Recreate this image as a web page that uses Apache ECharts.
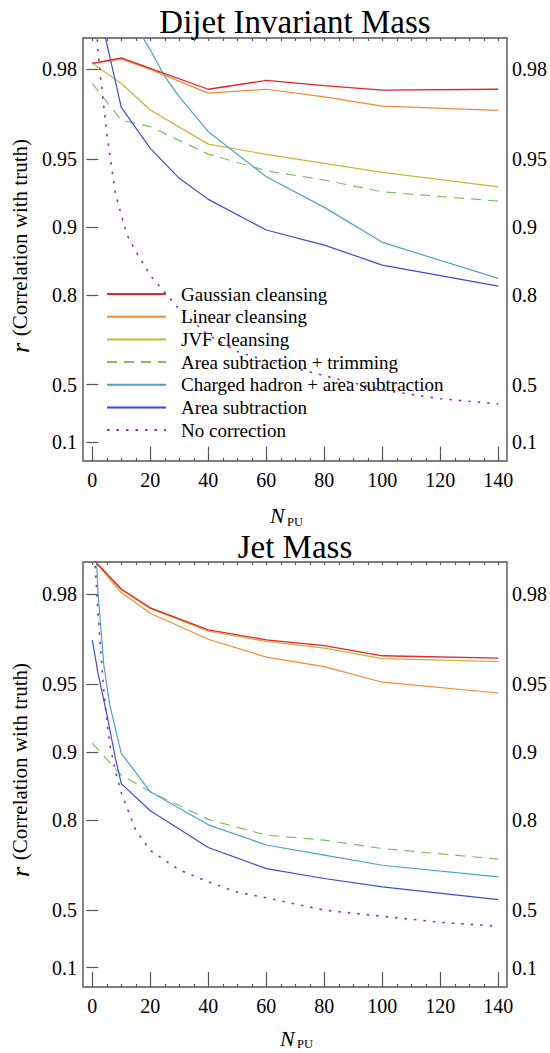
<!DOCTYPE html>
<html><head><meta charset="utf-8">
<script src="https://cdn.jsdelivr.net/npm/echarts@6/dist/echarts.min.js"></script>
<style>html,body{margin:0;padding:0;background:#fff}#c{width:550px;height:1053px}</style>
</head><body><div id="c"></div>
<script>
// ---------------- data ----------------
const seriesNames = ['Gaussian cleansing','Linear cleansing','JVF cleansing','Area subtraction + trimming','Charged hadron + area subtraction','Area subtraction','No correction'];
const chartTitles = ['Dijet Invariant Mass','Jet Mass'];
const rTicks = [0.1, 0.5, 0.8, 0.9, 0.95, 0.98];
const xMajor = [0, 20, 40, 60, 80, 100, 120, 140];
const xMinor = [0,5,10,15,20,25,30,35,40,45,50,55,60,65,70,75,80,85,90,95,100,105,110,115,120,125,130,135,140];

const npu = [0, 10, 20, 40, 60, 80, 100, 140];

// Dijet invariant mass (correlation r)
const dijetGaussian = [0.9812, 0.9822, 0.9802, 0.9755, 0.9776, 0.9764, 0.9753, 0.9755];
const dijetLinear   = [0.9812, 0.9820, 0.9800, 0.9745, 0.9755, 0.9735, 0.9709, 0.9696];
const dijetJVF      = [0.9812, 0.9769, 0.9697, 0.9571, 0.9524, 0.9478, 0.9428, 0.9337];
const dijetAreaTrim = [0.9769, 0.9664, 0.9641, 0.9525, 0.9437, 0.9381, 0.9302, 0.9233];
const npuDijetCharged = [0, 10, 20, 25, 30, 40, 60, 80, 100, 140];
const dijetCharged  = [0.997, 0.990, 0.9836, 0.9785, 0.9735, 0.9622, 0.9402, 0.9182, 0.8831, 0.8312];
const npuDijetArea = [0, 10, 20, 30, 40, 60, 80, 100, 140];
const dijetArea     = [0.992, 0.9705, 0.9552, 0.9392, 0.9246, 0.8969, 0.8798, 0.8526, 0.8174];
const npuDijetNoCorr = [1, 2, 3, 5, 8, 12, 15, 20, 30, 40, 50, 60, 70, 80, 100, 120, 140];
const dijetNoCorr   = [0.990, 0.9832, 0.9775, 0.9616, 0.9285, 0.8914, 0.872, 0.8363, 0.7683, 0.6987, 0.644, 0.6082, 0.5771, 0.5442, 0.4721, 0.4231, 0.3919];

// Jet mass (correlation r)
const jetGaussian = [0.9861, 0.9810, 0.9770, 0.9712, 0.9681, 0.9662, 0.9625, 0.9616];
const jetLinear   = [0.9861, 0.9803, 0.9757, 0.9683, 0.9620, 0.9581, 0.9509, 0.9452];
const jetJVF      = [0.9861, 0.9808, 0.9768, 0.9708, 0.9676, 0.9653, 0.9614, 0.9602];
const jetAreaTrim = [0.9085, 0.8735, 0.850, 0.8013, 0.7668, 0.7545, 0.7327, 0.702];
const npuJetCharged = [1, 2, 4, 6, 10, 20, 40, 60, 80, 100, 140];
const jetCharged  = [0.9895, 0.980, 0.9586, 0.9383, 0.8987, 0.850, 0.790, 0.742, 0.714, 0.683, 0.643];
const npuJetArea = [0, 2, 5, 8, 10, 20, 40, 60, 80, 100, 140];
const jetArea     = [0.968, 0.955, 0.932, 0.893, 0.862, 0.818, 0.7355, 0.672, 0.637, 0.6045, 0.550];
const npuJetNoCorr = [1, 2, 3, 4, 5, 6, 8, 10, 15, 20, 30, 40, 50, 60, 80, 100, 120, 140];
const jetNoCorr   = [0.985, 0.9756, 0.9631, 0.9457, 0.9284, 0.9077, 0.8777, 0.8486, 0.7779, 0.7271, 0.6676, 0.6244, 0.5831, 0.5583, 0.4990, 0.4667, 0.4328, 0.4095];

// ---------------- chart ----------------
const tf = r => -Math.log10(1 - r);   // axis scale: -log10(1 - r)
const FONT = '"Liberation Serif", "Times New Roman", serif';
const AX = '#555';
const yTickVals = rTicks.map(tf);
function yLabel(v) {
  let best = 0;
  for (let i = 1; i < yTickVals.length; i++) if (Math.abs(yTickVals[i] - v) < Math.abs(yTickVals[best] - v)) best = i;
  return String(rTicks[best]);
}
const colors = ['#e4232b', '#f08a38', '#c8b733', '#79c25c', '#4aa3c4', '#3a4cd6', '#9b2db5'];
const styles = [
  {width: 1.3}, {width: 1.2}, {width: 1.2},
  {width: 1.2, type: [10, 7]},
  {width: 1.2}, {width: 1.2},
  {width: 1.6, type: [2.5, 7]}
];

const grids = [
  {left: 83, right: 43, top: 38, height: 423},
  {left: 83, right: 43, top: 562, height: 425}
];
const yRanges = [[-0.037, 1.838], [-0.040, 1.841]];

const xAxes = [], yAxes = [];
grids.forEach((g, gi) => {
  const base = {gridIndex: gi, type: 'value', min: -3.2, max: 143, axisLine: {show: false}, splitLine: {show: false}};
  xAxes.push(Object.assign({}, base, {position: 'bottom',
    axisTick: {inside: true, length: 6, customValues: xMajor, lineStyle: {color: AX, width: 1.2}},
    axisLabel: {customValues: xMajor, fontSize: 20, fontFamily: FONT, color: '#000', margin: 9}}));
  xAxes.push(Object.assign({}, base, {position: 'top',
    axisTick: {inside: true, length: 6, customValues: xMajor, lineStyle: {color: AX, width: 1.2}},
    axisLabel: {show: false}}));
  xAxes.push(Object.assign({}, base, {position: 'bottom',
    axisTick: {inside: true, length: 3, customValues: xMinor, lineStyle: {color: AX, width: 1.2}},
    axisLabel: {show: false}}));
  xAxes.push(Object.assign({}, base, {position: 'top',
    axisTick: {inside: true, length: 3, customValues: xMinor, lineStyle: {color: AX, width: 1.2}},
    axisLabel: {show: false}}));
  ['left', 'right'].forEach(pos => {
    yAxes.push({gridIndex: gi, type: 'value', position: pos, min: yRanges[gi][0], max: yRanges[gi][1],
      axisLine: {show: false}, splitLine: {show: false},
      axisTick: {inside: true, length: 6, customValues: yTickVals, lineStyle: {color: AX, width: 1.2}},
      axisLabel: {customValues: yTickVals, formatter: yLabel, fontSize: 20, fontFamily: FONT, color: '#000', margin: pos === 'left' ? 6 : 5}});
  });
});

const chartData = [
  [[npu, dijetGaussian], [npu, dijetLinear], [npu, dijetJVF], [npu, dijetAreaTrim], [npuDijetCharged, dijetCharged], [npuDijetArea, dijetArea], [npuDijetNoCorr, dijetNoCorr]],
  [[npu, jetGaussian], [npu, jetLinear], [npu, jetJVF], [npu, jetAreaTrim], [npuJetCharged, jetCharged], [npuJetArea, jetArea], [npuJetNoCorr, jetNoCorr]]
];
const series = [];
chartData.forEach((list, gi) => {
  list.forEach((pair, si) => {
    const xs = pair[0], rs = pair[1];
    series.push({
      type: 'line', name: seriesNames[si], xAxisIndex: gi * 4, yAxisIndex: gi * 2,
      data: xs.map((x, i) => [x, tf(rs[i])]),
      symbol: 'none', clip: true, silent: true,
      z: si === 0 ? 4 : 2,
      lineStyle: Object.assign({color: colors[si]}, styles[si]),
      itemStyle: {color: colors[si]}
    });
  });
});

const graphics = [];
const titleMid = [21.5, 547];
chartTitles.forEach((t, i) => {
  graphics.push({type: 'text', x: 295, y: titleMid[i], style: {text: t, font: '33px ' + FONT, lineHeight: 25, fill: '#000', align: 'center', verticalAlign: 'middle'}});
});
const yNameMid = [246, 770];
yNameMid.forEach(y => {
  graphics.push({type: 'text', x: 20, y: y, rotation: Math.PI / 2, style: {
    text: '{r|r}  {s|(Correlation with truth)}', align: 'center', verticalAlign: 'middle', fill: '#000',
    rich: {r: {fontSize: 26, fontStyle: 'italic', fontFamily: FONT, fill: '#000'}, s: {fontSize: 21, fontFamily: FONT, fill: '#000'}}
  }});
});
// [x of N, mid-y of N, mid-y of PU]
const npuPos = [[270, 515.5, 521.5], [280, 1038.5, 1044]];
npuPos.forEach(p => {
  graphics.push({type: 'text', x: p[0], y: p[1], style: {text: 'N', font: 'italic 22px ' + FONT, lineHeight: 16, fill: '#000', align: 'left', verticalAlign: 'middle'}});
  graphics.push({type: 'text', x: p[0] + 17, y: p[2], style: {text: 'PU', font: '12.5px ' + FONT, lineHeight: 10, fill: '#000', align: 'left', verticalAlign: 'middle'}});
});

const chart = echarts.init(document.getElementById('c'), null, {renderer: 'svg'});
chart.setOption({
  animation: false,
  backgroundColor: '#fff',
  grid: grids.map(g => Object.assign({show: true, borderColor: AX, borderWidth: 1.4, backgroundColor: 'transparent'}, g)),
  xAxis: xAxes,
  yAxis: yAxes,
  legend: {
    left: 106, top: 282.7, orient: 'vertical', padding: 0, itemWidth: 59, itemHeight: 14, itemGap: 0,
    selectedMode: false, data: seriesNames,
    itemStyle: {opacity: 0, borderWidth: 0},
    textStyle: {fontFamily: FONT, fontSize: 19, color: '#000', lineHeight: 22.67, padding: [0, 0, 0, 10]}
  },
  series: series,
  graphic: graphics
});
</script>
</body></html>
